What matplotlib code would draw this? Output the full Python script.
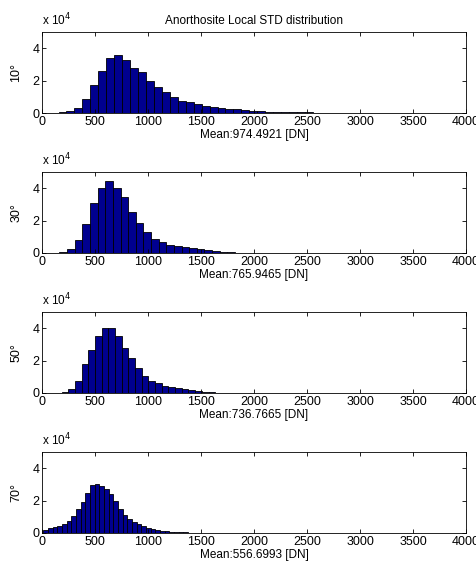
import numpy as np
import matplotlib
matplotlib.use("Agg")
import matplotlib.pyplot as plt

plt.rcParams['font.family'] = ['Liberation Sans', 'DejaVu Sans']

title = "Anorthosite Local STD distribution"
angles = ["10°", "30°", "50°", "70°"]
means = ["Mean:974.4921 [DN]", "Mean:765.9465 [DN]", "Mean:736.7665 [DN]", "Mean:556.6993 [DN]"]

# histogram bin starts / widths (DN) and counts (x 10^4)
bin_start = [156, 165, 122, 12]
bin_width = [75, 72, 63, 44]

counts_10 = [0.06, 0.14, 0.30, 0.88, 1.73, 2.62, 3.42, 3.61, 3.24, 2.77, 2.50, 1.99,
             1.58, 1.32, 0.97, 0.76, 0.65, 0.55, 0.46, 0.38, 0.31, 0.27, 0.22, 0.18,
             0.14, 0.12, 0.09, 0.07, 0.06, 0.05, 0.05, 0.04, 0.03]
counts_30 = [0.04, 0.25, 0.82, 1.80, 3.08, 4.00, 4.47, 4.00, 3.43, 2.56, 1.85, 1.27,
             0.85, 0.65, 0.52, 0.42, 0.35, 0.28, 0.22, 0.17, 0.12, 0.09, 0.06, 0.03,
             0.02, 0.01, 0.01, 0.01, 0.01, 0.01, 0.01, 0.01, 0.01, 0.01, 0.01, 0.01,
             0.01, 0.01, 0.01, 0.01, 0.01, 0.01, 0.01, 0.01, 0.01, 0.01, 0.01, 0.01,
             0.01, 0.01]
counts_50 = [0.03, 0.05, 0.25, 0.75, 1.78, 2.65, 3.50, 4.00, 4.00, 3.50, 2.80, 2.15,
             1.55, 1.05, 0.75, 0.60, 0.45, 0.35, 0.28, 0.22, 0.17, 0.12, 0.08, 0.05,
             0.03, 0.02, 0.01, 0.01, 0.01, 0.01, 0.01, 0.01, 0.01, 0.01, 0.01, 0.01,
             0.01, 0.01, 0.01, 0.01, 0.01, 0.01, 0.01, 0.01, 0.01, 0.01, 0.01, 0.01,
             0.01, 0.01]
counts_70 = [0.20, 0.32, 0.35, 0.42, 0.55, 0.75, 1.05, 1.45, 1.90, 2.45, 2.95, 3.05,
             2.90, 2.70, 2.40, 1.95, 1.50, 1.10, 0.85, 0.68, 0.53, 0.42, 0.32, 0.25,
             0.18, 0.14, 0.10, 0.08, 0.06, 0.05, 0.04, 0.02, 0.02, 0.01, 0.01, 0.01,
             0.01, 0.01, 0.01, 0.01, 0.01, 0.01, 0.01, 0.01, 0.01, 0.01, 0.01, 0.01,
             0.01, 0.01]
all_counts = [counts_10, counts_30, counts_50, counts_70]

xticks = [0, 500, 1000, 1500, 2000, 2500, 3000, 3500, 4000]
yticks = [0, 2, 4]

fig = plt.figure(figsize=(4.77, 5.67), dpi=100)
bottoms = [0.8007, 0.5538, 0.3069, 0.0600]
left, width, height = 0.088, 0.889, 0.1429

for i in range(4):
    ax = fig.add_axes([left, bottoms[i], width, height])
    c = np.array(all_counts[i])
    edges = bin_start[i] + bin_width[i] * np.arange(len(c) + 1)
    ax.bar(edges[:-1], c, width=np.diff(edges), align='edge',
           color='#00008F', edgecolor='black', linewidth=0.6)
    ax.set_xlim(0, 4000)
    ax.set_ylim(0, 5)
    ax.set_xticks(xticks)
    ax.set_yticks(yticks)
    ax.set_xticklabels([str(t) for t in xticks], fontsize=9)
    ax.set_yticklabels([str(t) for t in yticks], fontsize=9)
    ax.tick_params(direction='in', top=True, right=True, length=3, width=0.6, pad=2)
    for s in ax.spines.values():
        s.set_linewidth(0.6)
    ax.set_ylabel(angles[i], fontsize=9, labelpad=7)
    ax.set_xlabel(means[i], fontsize=8.5, labelpad=1)
    ax.text(0.0, 1.04, r"x 10$^{4}$", transform=ax.transAxes, fontsize=8.5,
            ha='left', va='bottom')
    if i == 0:
        ax.set_title(title, fontsize=8.5, pad=6)

fig.savefig("out.png", dpi=100)
